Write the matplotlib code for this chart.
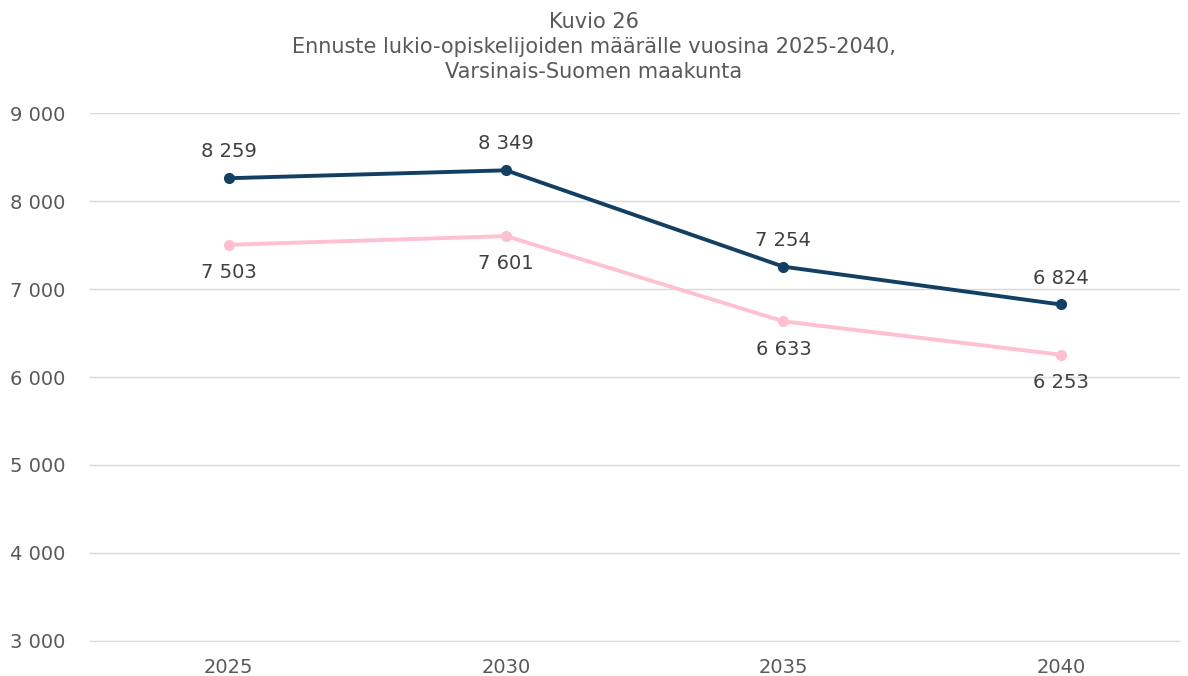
import matplotlib
matplotlib.use("Agg")
import matplotlib.pyplot as plt

# data
years = ["2025", "2030", "2035", "2040"]
series_dark = [8259, 8349, 7254, 6824]
series_pink = [7503, 7601, 6633, 6253]
y_ticks = [3000, 4000, 5000, 6000, 7000, 8000, 9000]

plt.rcParams['font.family'] = ['DejaVu Sans']

dark = '#123f62'
pink = '#ffc0d0'
txt = '#404040'
fs = 14

fig = plt.figure(figsize=(11.88, 6.76), dpi=100)
ax = fig.add_axes([0.0758, 0.0518, 0.9175, 0.781])

x = range(len(years))
ax.plot(x, series_dark, color=dark, lw=2.8, marker='o', ms=7, zorder=3)
ax.plot(x, series_pink, color=pink, lw=2.8, marker='o', ms=7, zorder=3)

def fmt(v):
    return f"{v:,}".replace(",", " ")

for i, v in enumerate(series_dark):
    ax.annotate(fmt(v), (i, v), xytext=(0, 19), textcoords='offset points',
                ha='center', va='center', fontsize=fs, color=txt)
for i, v in enumerate(series_pink):
    ax.annotate(fmt(v), (i, v), xytext=(0, -20), textcoords='offset points',
                ha='center', va='center', fontsize=fs, color=txt)

ax.set_xlim(-0.5, 3.43)
ax.set_ylim(3000, 9000)
ax.set_yticks(y_ticks)
ax.set_yticklabels([fmt(v) for v in y_ticks])
ax.set_xticks(list(x))
ax.set_xticklabels(years)
ax.tick_params(axis='both', length=0, labelsize=fs, labelcolor='#595959')
ax.tick_params(axis='y', pad=18)
ax.tick_params(axis='x', pad=12)
for s in ['top', 'left', 'right']:
    ax.spines[s].set_visible(False)
ax.spines['bottom'].set_color('#d9d9d9')
ax.grid(axis='y', color='#d9d9d9', lw=1)
ax.set_axisbelow(True)

fig.text(0.5, 0.982,
         "Kuvio 26\nEnnuste lukio-opiskelijoiden määrälle vuosina 2025-2040,\nVarsinais-Suomen maakunta",
         ha='center', va='top', fontsize=15, color='#595959', linespacing=1.3)

fig.savefig("out.png", dpi=100)
